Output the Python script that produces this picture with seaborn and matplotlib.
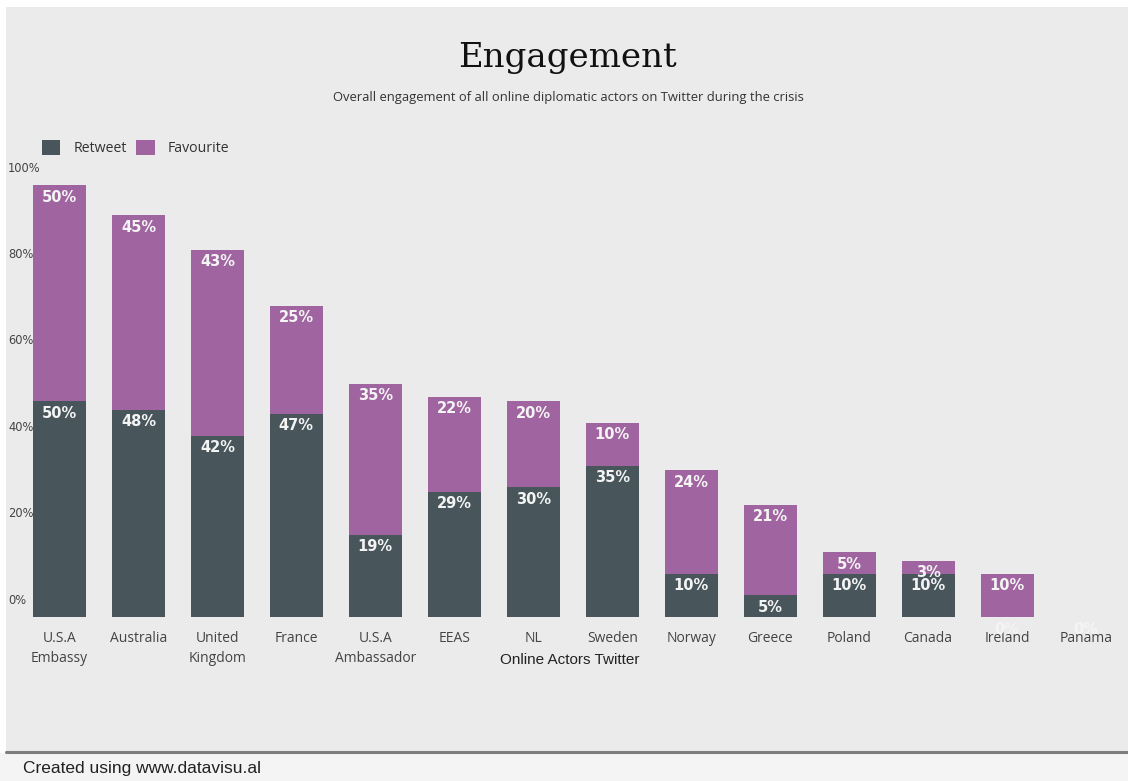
import matplotlib
matplotlib.use("Agg")
import matplotlib.pyplot as plt
from matplotlib.patches import Rectangle, Patch
from matplotlib.lines import Line2D
import matplotlib.transforms as mtransforms
import pandas as pd
import seaborn as sns

# --- data -------------------------------------------------------------
actors = ["U.S.A\nEmbassy", "Australia", "United\nKingdom", "France",
          "U.S.A\nAmbassador", "EEAS", "NL", "Sweden", "Norway", "Greece",
          "Poland", "Canada", "Ireland", "Panama"]
retweet = [50, 48, 42, 47, 19, 29, 30, 35, 10, 5, 10, 10, 0, 0]
favourite = [50, 45, 43, 25, 35, 22, 20, 10, 24, 21, 5, 3, 10, 0]
y_ticks = [0, 20, 40, 60, 80, 100]
y_tick_labels = ["0%", "20%", "40%", "60%", "80%", "100%"]

# --- style ------------------------------------------------------------
sns.set_theme(style="white")
NARROW = ["Liberation Sans Narrow", "Open Sans", "DejaVu Sans"]
plt.rcParams["font.family"] = ["DejaVu Sans"]

C_RT = "#48565c"
C_FAV = "#a065a0"
BG = "#ebebeb"

W, H = 1128, 781
fig = plt.figure(figsize=(W / 100, H / 100), dpi=100, facecolor="white")

def fx(px):
    return px / W

def fy(py):
    return 1 - py / H

# page panels (kept behind the axes)
fig.patches.append(Rectangle((fx(6), fy(751)), 1 - fx(6), fy(7) - fy(751),
                             transform=fig.transFigure, facecolor=BG,
                             edgecolor="none", zorder=-5))
fig.patches.append(Rectangle((0, 0), 1, fy(753), transform=fig.transFigure,
                             facecolor="#f4f4f4", edgecolor="none", zorder=-5))
fig.lines.append(Line2D([fx(6), 1], [fy(752), fy(752)], transform=fig.transFigure,
                        color="#7d7d7d", linewidth=2.2, zorder=-4))

# plotting area: 0% at y=617px, 100% at y=185px
ax = fig.add_axes([fx(20), fy(617), fx(1125.5) - fx(20), fy(185) - fy(617)])
ax.set_facecolor("none")
ax.set_zorder(1)

df = pd.DataFrame({"actor": actors, "retweet": retweet, "favourite": favourite})
df["total"] = df["retweet"] + df["favourite"]

sns.barplot(data=df, x="actor", y="total", color=C_FAV, saturation=1,
            width=0.67, ax=ax, order=actors, linewidth=0, edgecolor="none")
sns.barplot(data=df, x="actor", y="retweet", color=C_RT, saturation=1,
            width=0.67, ax=ax, order=actors, linewidth=0, edgecolor="none")

ax.set_xlim(-0.5, len(actors) - 0.5)
ax.set_ylim(0, 100)
for s in ax.spines.values():
    s.set_visible(False)
ax.grid(False)
ax.set_yticks([])
ax.set_ylabel("")
ax.tick_params(axis="x", length=0, pad=10)
ax.set_xticks(range(len(actors)))
ax.set_xticklabels(actors, family=NARROW, fontsize=10, color="#444444",
                   linespacing=1.45, va="top")
ax.set_xlabel("Online Actors Twitter", family=["Liberation Sans", "DejaVu Sans"],
              fontsize=11, color="#222222")
ax.xaxis.set_label_coords(fx(570 - 20) / (fx(1125.5) - fx(20)),
                          (617 - 660) / 432)
ax.xaxis.label.set_va("center")

# y labels sit just above their value
lab_tr = mtransforms.blended_transform_factory(fig.transFigure, ax.transData) + \
    mtransforms.ScaledTranslation(0, 17 / 100, fig.dpi_scale_trans)
for v, t in zip(y_ticks, y_tick_labels):
    ax.text(fx(8), v, t, transform=lab_tr, ha="left", va="center",
            fontsize=8.3, color="#444444", clip_on=False)

# segment value labels, placed just under the top of each segment
down = mtransforms.ScaledTranslation(0, -12 / 100, fig.dpi_scale_trans)
for i, (r, f) in enumerate(zip(retweet, favourite)):
    ax.text(i, r + f, f"{f}%", transform=ax.transData + down, ha="center",
            va="center", fontsize=10.5, fontweight="bold", color="#f4f4f4",
            clip_on=False, zorder=5)
    ax.text(i, r, f"{r}%", transform=ax.transData + down, ha="center",
            va="center", fontsize=10.5, fontweight="bold", color="#f4f4f4",
            clip_on=False, zorder=5)

# legend
handles = [Patch(facecolor=C_RT, edgecolor="none"),
           Patch(facecolor=C_FAV, edgecolor="none")]
leg = fig.legend(handles, ["Retweet", "Favourite"], loc="center left",
                 bbox_to_anchor=(fx(42), fy(148)), ncol=2, frameon=False,
                 borderpad=0, borderaxespad=0, handlelength=1.3,
                 handleheight=1.25, handletextpad=0.9, columnspacing=0.7,
                 prop={"family": NARROW, "size": 10.2})
for t in leg.get_texts():
    t.set_color("#333333")

# titles
fig.text(fx(568), fy(58), "Engagement", ha="center", va="center",
         family=["DejaVu Serif"], fontsize=24.5, color="#111111")
fig.text(fx(568), fy(97),
         "Overall engagement of all online diplomatic actors on Twitter during the crisis",
         ha="center", va="center", family=NARROW, fontsize=9.4, color="#333333")

fig.text(fx(23), fy(768), "Created using www.datavisu.al", ha="left",
         va="center", family=["Liberation Sans", "DejaVu Sans"], fontsize=12.5,
         color="#222222")

fig.savefig("out.png", dpi=100, facecolor="white")
